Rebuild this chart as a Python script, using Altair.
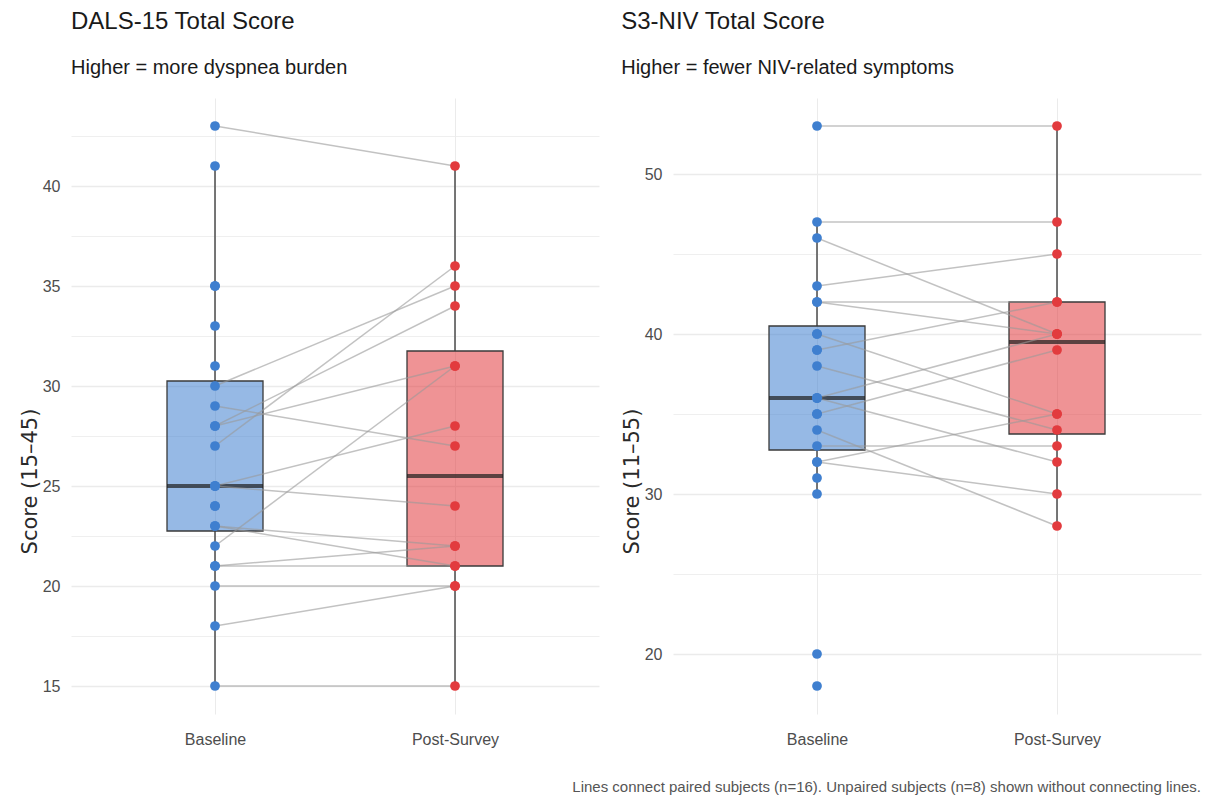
import altair as alt
import pandas as pd

# ---------------- data ----------------
times = ["Baseline", "Post-Survey"]

# DALS-15 (paired subjects: baseline -> post)
dals_base_paired = [43, 15, 20, 18, 21, 21, 23, 23, 25, 25, 29, 30, 28, 28, 27, 22]
dals_post_paired = [41, 15, 20, 20, 21, 22, 22, 21, 24, 28, 27, 35, 34, 31, 36, 31]
dals_base_unpaired = [41, 35, 33, 31, 24, 24, 25, 35]

# S3-NIV (paired subjects: baseline -> post)
s3_base_paired = [53, 47, 46, 43, 42, 42, 39, 36, 36, 35, 34, 33, 32, 32, 40, 38]
s3_post_paired = [53, 47, 40, 45, 42, 40, 42, 40, 32, 39, 28, 33, 35, 30, 35, 34]
s3_base_unpaired = [20, 18, 30, 31, 35, 36, 39, 40]

caption = "Lines connect paired subjects (n=16). Unpaired subjects (n=8) shown without connecting lines."

BLUE = "#3F7FCF"
RED = "#E23B3E"
FONT = "Liberation Sans"


def build_frames(base_p, post_p, base_u):
    rows = []
    for i, (b, p) in enumerate(zip(base_p, post_p)):
        rows.append({"subject": f"P{i}", "time": times[0], "score": b, "paired": True})
        rows.append({"subject": f"P{i}", "time": times[1], "score": p, "paired": True})
    for j, b in enumerate(base_u):
        rows.append({"subject": f"U{j}", "time": times[0], "score": b, "paired": False})
    return pd.DataFrame(rows)


def panel(df, title, subtitle, ytitle, domain, ticks, major_mod, frame):
    x = alt.X(
        "time:N",
        scale=alt.Scale(type="point", padding=0.6, domain=times),
        axis=alt.Axis(title=None, labelAngle=0, labelFontSize=16, labelColor="#4D4D4D",
                      labelPadding=17, grid=True, gridColor="#EBEBEB", gridWidth=1,
                      ticks=False, domain=False),
    )
    y = alt.Y(
        "score:Q",
        scale=alt.Scale(domain=domain, nice=False, zero=False),
        axis=alt.Axis(
            title=ytitle, values=ticks,
            labelExpr=f"datum.value % {major_mod} === 0 ? datum.label : ''",
            labelFontSize=16, labelColor="#4D4D4D", labelPadding=11,
            titleFont="DejaVu Sans", titleFontSize=21, titleColor="#2A2A2A",
            titleFontWeight="normal", titlePadding=2, titleY=383,
            ticks=False, domain=False,
            gridColor="#EBEBEB",
            gridWidth={"condition": {"test": f"datum.value % {major_mod} === 0", "value": 1.4},
                       "value": 0.8},
        ),
    )
    color = alt.Color("time:N", scale=alt.Scale(domain=times, range=[BLUE, RED]), legend=None)

    box = alt.Chart(df).mark_boxplot(
        extent=1.5, size=96, outliers=False, ticks=False,
        box={"fillOpacity": 0.55, "stroke": "#3A3A3A", "strokeWidth": 1.3},
        median={"color": "#1E1E1E", "thickness": 4},
        rule={"color": "#555555", "strokeWidth": 1.6},
    ).encode(x=x, y=y, color=color)

    lines = alt.Chart(df).transform_filter("datum.paired").mark_line(
        color="#9A9A9A", opacity=0.6, strokeWidth=1.5
    ).encode(x=x, y=y, detail="subject:N")

    pts = alt.Chart(df).mark_circle(size=95, opacity=1).encode(x=x, y=y, color=color)

    return alt.layer(box, lines, pts).properties(
        width=528, height=616,
        title=alt.TitleParams(
            text=title, subtitle=subtitle, anchor="start", frame=frame,
            font=FONT, fontSize=24, fontWeight="normal", color="#1A1A1A",
            subtitleFont=FONT, subtitleFontSize=20, subtitleColor="#1A1A1A",
            subtitlePadding=24, offset=20,
        ),
    )


dals_df = build_frames(dals_base_paired, dals_post_paired, dals_base_unpaired)
s3_df = build_frames(s3_base_paired, s3_post_paired, s3_base_unpaired)

left = panel(dals_df, "DALS-15 Total Score", "Higher = more dyspnea burden", "Score (15–45)",
             [13.6, 44.4], [15, 17.5, 20, 22.5, 25, 27.5, 30, 32.5, 35, 37.5, 40, 42.5], 5, "group")
right = panel(s3_df, "S3-NIV Total Score", "Higher = fewer NIV-related symptoms", "Score (11–55)",
              [16.25, 54.75], [20, 25, 30, 35, 40, 45, 50], 10, "bounds")

chart = alt.hconcat(left, right, spacing=22).properties(
    padding={"left": 11, "top": 2, "right": 5, "bottom": 5},
    title=alt.TitleParams(
        text=caption, orient="bottom", anchor="end", font=FONT, fontSize=15,
        fontWeight="normal", color="#555555", offset=33,
    ),
).configure(font=FONT).configure_view(strokeWidth=0, stroke=None).configure_axis(
    domain=False, ticks=False, labelFont=FONT
)

chart.save("out.html", embed_options={"renderer": "svg", "actions": False})
